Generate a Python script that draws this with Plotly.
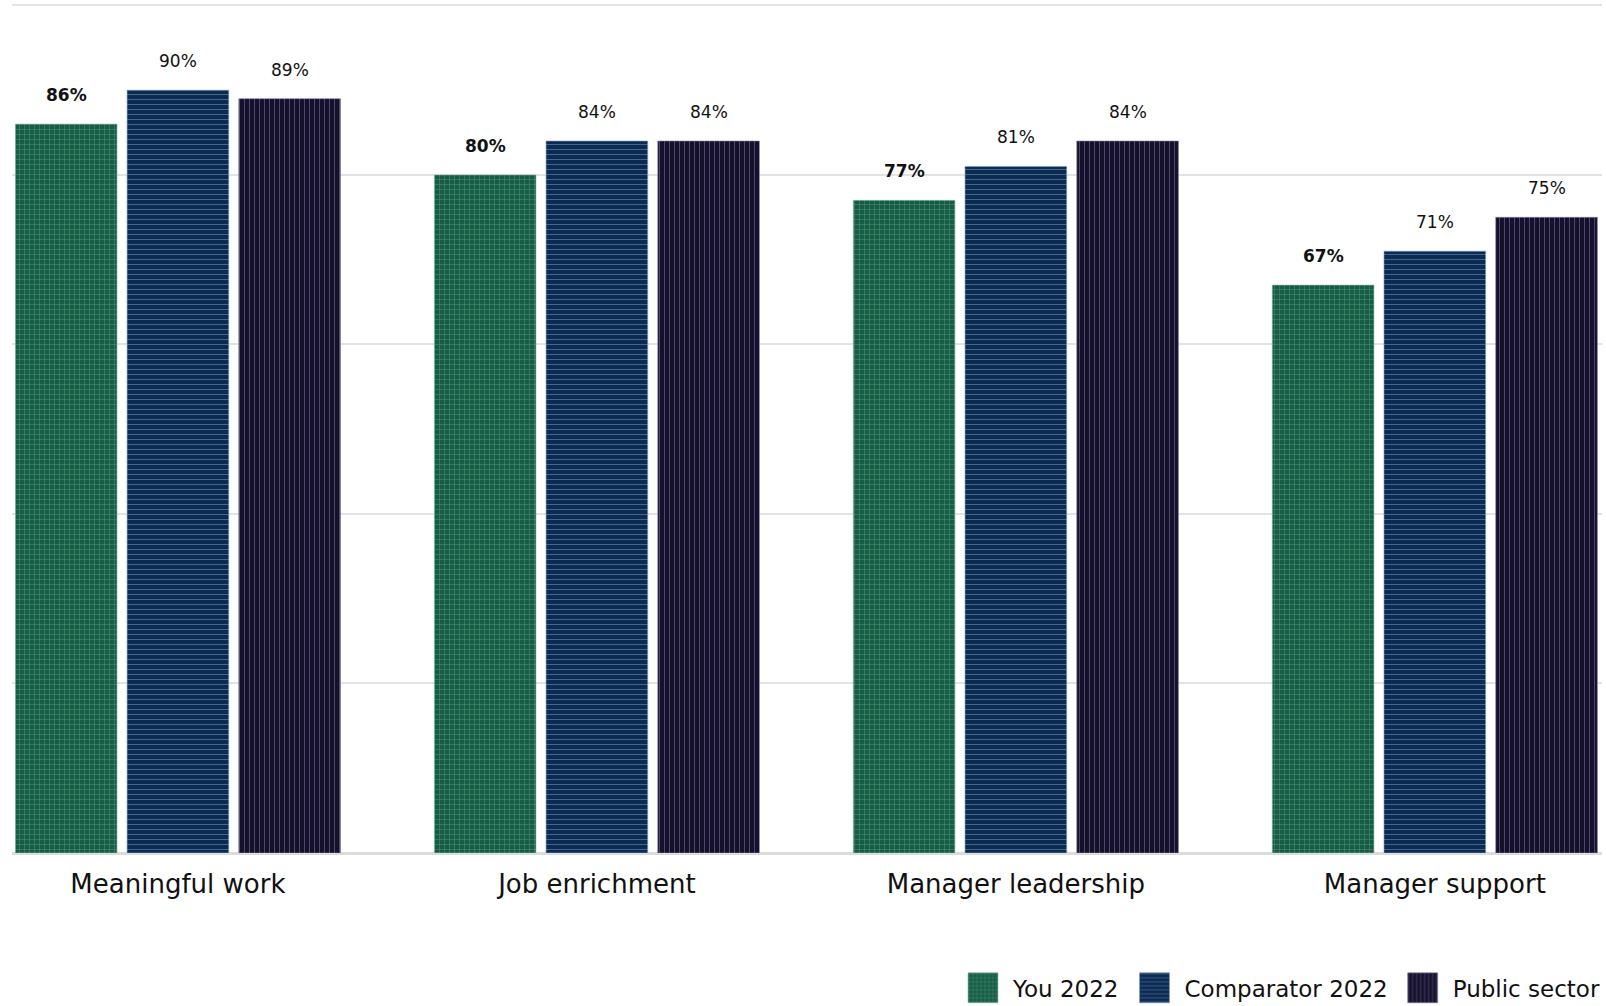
import plotly.graph_objects as go

categories = ["Meaningful work", "Job enrichment", "Manager leadership", "Manager support"]
series_names = ["You 2022", "Comparator 2022", "Public sector"]
you_2022 = [86, 80, 77, 67]
comparator_2022 = [90, 84, 81, 71]
public_sector = [89, 84, 84, 75]

series_values = [you_2022, comparator_2022, public_sector]
bg_colors = ["#155d44", "#0c2b52", "#15102c"]
fg_colors = ["#8db8a5", "#7f9fc4", "#8580a3"]
shapes = ["+", "-", "|"]
sizes = [5, 5, 5]
solid = [0.2, 0.2, 0.2]

FONT = "DejaVu Sans"
bargap = 0.2
bargroupgap = 0.09

fig = go.Figure()
for k, (name, vals) in enumerate(zip(series_names, series_values)):
    fig.add_trace(go.Bar(
        x=list(range(len(categories))), y=vals, name=name,
        marker=dict(color=bg_colors[k],
                    line=dict(color=fg_colors[k], width=0.6),
                    pattern=dict(shape=shapes[k], fillmode="overlay",
                                 fgcolor=fg_colors[k], size=sizes[k],
                                 solidity=solid[k])),
        hoverinfo="skip",
    ))

n = len(series_names)
slot = (1 - bargap) / n
for k, vals in enumerate(series_values):
    for i, v in enumerate(vals):
        fig.add_annotation(
            x=i + (k - (n - 1) / 2) * slot, y=v, xref="x", yref="y",
            text=(f"<b>{v}%</b>" if k == 0 else f"{v}%"),
            showarrow=False, yanchor="bottom", yshift=17,
            font=dict(family=FONT, size=17, color="#111111"),
        )

fig.update_layout(
    width=1606, height=1006,
    margin=dict(l=12, r=4, t=2, b=153, autoexpand=False),
    paper_bgcolor="white", plot_bgcolor="white",
    barmode="group", bargap=bargap, bargroupgap=bargroupgap,
    font=dict(family=FONT, color="#111111"),
    showlegend=True,
    legend=dict(orientation="h", xref="container", yref="container",
                x=0.5934, xanchor="left", y=0.018, yanchor="middle",
                font=dict(family=FONT, size=23, color="#111111"),
                itemwidth=50, traceorder="normal", bgcolor="rgba(0,0,0,0)"),
    xaxis=dict(tickmode="array", tickvals=list(range(len(categories))), ticktext=categories,
               range=[-0.396, 3.399], showgrid=False, zeroline=False, showline=False,
               ticks="", ticklabelstandoff=13,
               tickfont=dict(family=FONT, size=26, color="#111111")),
    yaxis=dict(range=[0, 100.4], dtick=20, showticklabels=False, showgrid=True,
               gridcolor="#e3e3e3", gridwidth=2, zeroline=True, zerolinecolor="#dcdcdc",
               zerolinewidth=3, showline=False, ticks=""),
)

# enlarge the legend swatches to the reference's square size
post = """
document.body.style.margin='0px';
document.querySelectorAll('.legend .legendpoints path').forEach(function(p){
  var d = p.getAttribute('d') || '';
  if (d.indexOf('M6,6H-6V-6H6Z') === 0) { p.setAttribute('d', 'M15,15H-15V-15H15Z'); }
});
"""
fig.write_html("out.html", config={"displayModeBar": False}, post_script=post)
